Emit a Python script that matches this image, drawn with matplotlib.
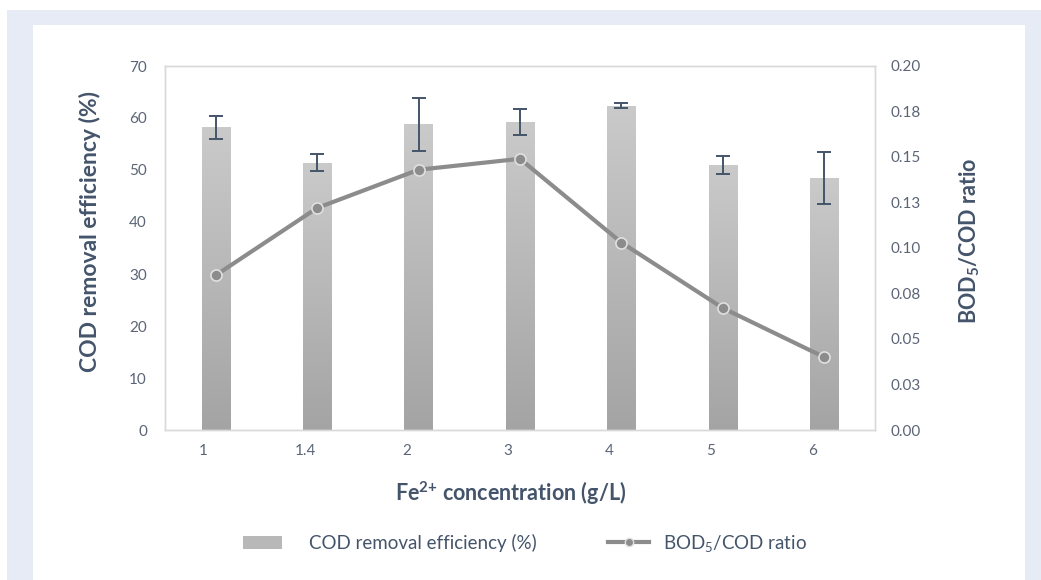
import numpy as np
import matplotlib
matplotlib.use("Agg")
import matplotlib.pyplot as plt
from matplotlib.patches import Rectangle, Patch
from matplotlib.lines import Line2D
import matplotlib.transforms as mtransforms

# ---- data ----
categories = ["1", "1.4", "2", "3", "4", "5", "6"]
cod_removal = [58.2, 51.4, 58.8, 59.3, 62.4, 51.0, 48.4]
cod_error = [2.2, 1.6, 5.1, 2.5, 0.45, 1.7, 5.0]
bod_cod_ratio = [0.085, 0.122, 0.143, 0.149, 0.103, 0.067, 0.040]
left_ticks = [0, 10, 20, 30, 40, 50, 60, 70]
right_ticks = [0.0, 0.025, 0.05, 0.075, 0.1, 0.125, 0.15, 0.175, 0.2]
right_tick_labels = ["0.00", "0.03", "0.05", "0.08", "0.10", "0.13", "0.15", "0.18", "0.20"]

plt.rcParams['font.family'] = ['Lato', 'DejaVu Sans']
plt.rcParams['mathtext.fontset'] = 'custom'
plt.rcParams['mathtext.rm'] = 'Lato'
plt.rcParams['mathtext.it'] = 'Lato:italic'
plt.rcParams['mathtext.bf'] = 'Lato:bold'

W, H = 1041, 580
fig = plt.figure(figsize=(W / 100, H / 100), dpi=100, facecolor='white')

# background frame
fig.patches.append(Rectangle((7 / W, 0), (W - 7) / W, (H - 10) / H, transform=fig.transFigure,
                             facecolor='#e7ebf6', edgecolor='none', zorder=-10))
fig.patches.append(Rectangle((33 / W, 0), (1025 - 33) / W, (H - 25) / H, transform=fig.transFigure,
                             facecolor='white', edgecolor='none', zorder=-9))

ax = fig.add_axes([165 / W, (H - 430) / H, 710 / W, 364 / H])
ax.set_facecolor('none')
ax2 = ax.twinx()

text_col = '#44546a'
tick_col = '#5b6577'

x = np.arange(len(categories))
bw = 0.28
bars = ax.bar(x, cod_removal, width=bw, color='#bdbdbd', edgecolor='none', zorder=2)
# gradient fill
grad = np.linspace(0, 1, 256).reshape(-1, 1)
cmap = matplotlib.colors.LinearSegmentedColormap.from_list('g', ['#a4a4a4', '#cacaca'])
for b in bars:
    im = ax.imshow(grad, cmap=cmap, aspect='auto', origin='lower',
                   extent=[b.get_x(), b.get_x() + b.get_width(), 0, b.get_height()], zorder=2.1)
    im.set_clip_path(b)

ax.errorbar(x, cod_removal, yerr=cod_error, fmt='none', ecolor=text_col, elinewidth=1.4,
            capsize=5, capthick=1.4, zorder=3)

ax.set_xlim(-0.5, len(categories) - 0.5)
ax.set_ylim(0, 70)
ax.set_yticks(left_ticks)
ax.set_xticks(x)
ax.set_xticklabels(categories)

ax2.plot(x, bod_cod_ratio, color='#8c8c8c', lw=3, marker='o', markersize=8,
         markerfacecolor='#8c8c8c', markeredgecolor='#e0e0e0', markeredgewidth=1.2, zorder=4)
ax2.set_ylim(0, 0.2)
ax2.set_yticks(right_ticks)
ax2.set_yticklabels(right_tick_labels)

for a in (ax, ax2):
    for s in a.spines.values():
        s.set_color('#d9d9d9')
        s.set_linewidth(1.0)
ax.spines['bottom'].set_color('#d3dae8')

ax.tick_params(axis='y', length=0, pad=13, labelsize=11, labelcolor=tick_col)
ax.tick_params(axis='x', length=0, pad=10, labelsize=11, labelcolor=tick_col)
ax2.tick_params(axis='y', length=0, pad=11, labelsize=11, labelcolor=tick_col)

# shift x tick labels slightly left as in reference
offset = mtransforms.ScaledTranslation(-12 / 100, 0, fig.dpi_scale_trans)
for lbl in ax.get_xticklabels():
    lbl.set_transform(lbl.get_transform() + offset)

fig.text(90 / W, 1 - 231 / H, "COD removal efficiency (%)", rotation=90, ha='center', va='center',
         fontsize=16.5, fontweight='bold', color=text_col)
fig.text(970 / W, 1 - 241 / H, r"BOD$_\mathbf{5}$/COD ratio", rotation=90, ha='center', va='center',
         fontsize=15.5, fontweight='bold', color=text_col)
fig.text(511 / W, 1 - 493 / H, r"Fe$^{\mathbf{2{+}}}$ concentration (g/L)", ha='center', va='center',
         fontsize=15.5, fontweight='bold', color=text_col)

bar_handle = Patch(facecolor='#b8b8b8', edgecolor='none')
line_handle = Line2D([0], [0], color='#8c8c8c', lw=3, marker='o', markersize=6,
                     markerfacecolor='#8c8c8c', markeredgecolor='#e0e0e0')
leg1 = fig.legend([bar_handle], ["COD removal efficiency (%)"], loc='center left',
                  bbox_to_anchor=(243 / W, 1 - 543 / H), frameon=False, fontsize=13.5,
                  handlelength=2.1, handletextpad=1.4, borderpad=0, borderaxespad=0)
leg2 = fig.legend([line_handle], [r"BOD$_5$/COD ratio"], loc='center left',
                  bbox_to_anchor=(608 / W, 1 - 543 / H), frameon=False, fontsize=13.5,
                  handlelength=2.2, handletextpad=0.75, borderpad=0, borderaxespad=0)
for lg in (leg1, leg2):
    for t in lg.get_texts():
        t.set_color(text_col)

fig.savefig('out.png', dpi=100, facecolor='white')
